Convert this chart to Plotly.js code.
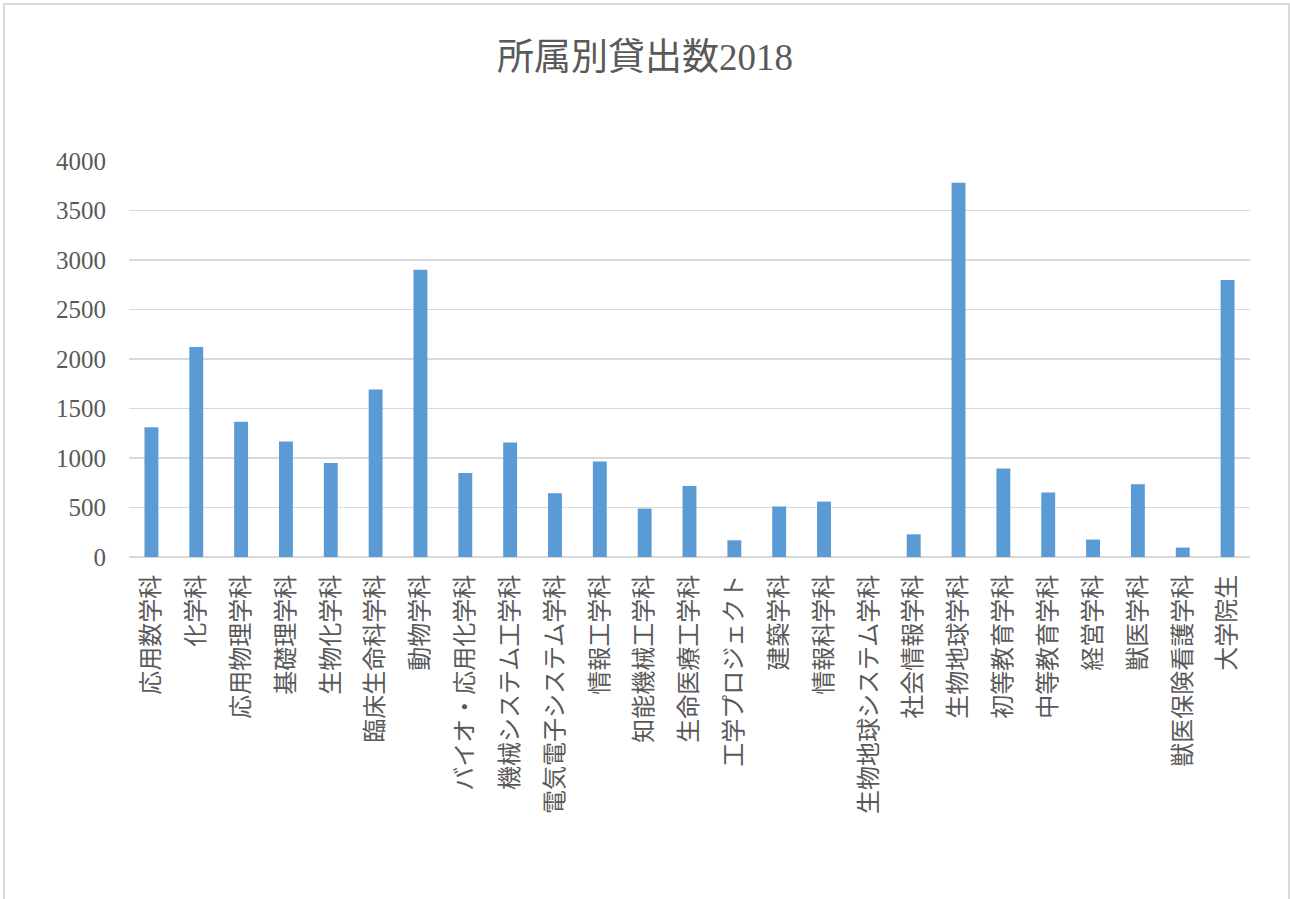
<!DOCTYPE html>
<html>
<head>
<meta charset="utf-8">
<script src="https://cdn.plot.ly/plotly-3.0.1.min.js"></script>
<style>
  html, body { margin: 0; padding: 0; background: #ffffff; }
  #chart { position: absolute; left: 0; top: 0; width: 1290px; height: 899px; }
  #frame { position: absolute; left: 3px; top: 3px; width: 1283px; height: 910px;
           border: 2px solid #d9d9d9; pointer-events: none; }
</style>
</head>
<body>
<div id="chart"></div>
<div id="frame"></div>
<script>
const categories = [
  "応用数学科", "化学科", "応用物理学科", "基礎理学科", "生物化学科",
  "臨床生命科学科", "動物学科", "バイオ・応用化学科", "機械システム工学科", "電気電子システム学科",
  "情報工学科", "知能機械工学科", "生命医療工学科", "工学プロジェクト", "建築学科",
  "情報科学科", "生物地球システム学科", "社会情報学科", "生物地球学科", "初等教育学科",
  "中等教育学科", "経営学科", "獣医学科", "獣医保険看護学科", "大学院生"
];
const loans = [
  1310, 2120, 1365, 1167, 950,
  1692, 2902, 849, 1157, 644,
  964, 489, 718, 169, 510,
  560, 0, 229, 3781, 894,
  651, 176, 735, 95, 2797
];
const yTicks = [0, 500, 1000, 1500, 2000, 2500, 3000, 3500, 4000];
const chartTitle = "所属別貸出数2018";

const fontFam = "'Liberation Serif', 'Noto Sans CJK JP', serif";

const trace = {
  type: "bar",
  x: categories,
  y: loans,
  marker: { color: "#5b9bd5", line: { width: 0 } },
  hoverinfo: "x+y"
};

const layout = {
  width: 1290,
  height: 899,
  paper_bgcolor: "#ffffff",
  plot_bgcolor: "#ffffff",
  margin: { l: 129, r: 40, t: 161, b: 342, pad: 0 },
  showlegend: false,
  bargap: 0.69,
  title: {
    text: chartTitle,
    font: { family: fontFam, size: 37, color: "#595959" },
    x: 0.5, xanchor: "center",
    y: 0.936, yanchor: "middle"
  },
  xaxis: {
    type: "category",
    tickangle: -90,
    tickfont: { family: fontFam, size: 24, color: "#595959" },
    showgrid: false,
    showline: false,
    ticks: "",
    ticklabelstandoff: 12,
    automargin: false
  },
  yaxis: {
    range: [0, 4000],
    tickmode: "array",
    tickvals: yTicks,
    ticktext: yTicks.map(String),
    tickfont: { family: fontFam, size: 25, color: "#595959" },
    showgrid: true,
    gridcolor: "#d9d9d9",
    gridwidth: 1.5,
    zeroline: true,
    zerolinecolor: "#d9d9d9",
    zerolinewidth: 1.5,
    showline: false,
    ticks: "",
    ticklabelstandoff: 22,
    automargin: false
  }
};

Plotly.newPlot("chart", [trace], layout, { displayModeBar: false, staticPlot: true });
</script>
</body>
</html>
